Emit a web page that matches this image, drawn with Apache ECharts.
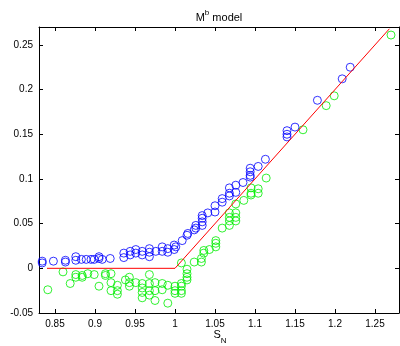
<!DOCTYPE html>
<html><head><meta charset="utf-8">
<script src="https://cdn.jsdelivr.net/npm/echarts@6/dist/echarts.min.js"></script>
<style>html,body{margin:0;padding:0;background:#fff}#c{width:400px;height:346px}</style>
</head><body><div id="c"></div>
<script>
const xTicks=[0.85,0.9,0.95,1,1.05,1.1,1.15,1.2,1.25];
const yTicks=[-0.05,0,0.05,0.1,0.15,0.2,0.25];

const blueX=[0.834,0.834,0.848,0.863,0.863,0.876,0.876,0.883,0.889,0.895,0.899,0.905,0.905,0.909,0.919,
0.936,0.936,0.944,0.944,0.951,0.951,0.959,0.959,0.968,0.968,0.968,0.976,0.984,0.984,0.991,0.991,0.999,0.999,1.001,
1.009,1.015,1.016,1.024,1.026,1.026,1.034,1.034,1.034,1.034,1.041,1.05,1.05,1.059,1.059,1.068,1.068,1.068,
1.076,1.076,1.085,1.094,1.094,1.094,1.094,1.104,1.113,1.14,1.14,1.14,1.15,1.178,1.209,1.219];
const blueY=[0.008,0.006,0.008,0.009,0.007,0.013,0.009,0.010,0.010,0.010,0.010,0.013,0.011,0.010,0.011,
0.017,0.012,0.019,0.015,0.021,0.017,0.019,0.015,0.022,0.018,0.013,0.019,0.024,0.019,0.022,0.018,0.026,0.021,0.024,
0.031,0.037,0.039,0.043,0.048,0.045,0.059,0.056,0.052,0.048,0.062,0.070,0.063,0.078,0.074,0.090,0.084,0.081,
0.093,0.085,0.096,0.112,0.108,0.104,0.102,0.114,0.122,0.154,0.150,0.147,0.158,0.188,0.212,0.225];

const greenX=[0.841,0.86,0.869,0.876,0.876,0.884,0.884,0.891,0.899,0.905,0.913,0.913,0.92,0.92,0.92,
0.928,0.928,0.928,0.938,0.943,0.943,0.943,0.951,0.959,0.959,0.959,0.959,0.968,0.968,0.968,0.968,
0.975,0.975,0.975,0.984,0.984,0.991,0.991,1.0,1.0,1.0,1.008,1.008,1.008,1.008,1.008,
1.015,1.015,1.015,1.015,1.024,1.033,1.033,1.036,1.036,1.043,1.051,1.051,1.051,1.059,
1.068,1.068,1.068,1.068,1.076,1.076,1.076,1.076,1.086,1.095,1.095,1.095,1.104,1.104,1.114,
1.16,1.189,1.199,1.27];
const greenY=[-0.024,-0.004,-0.017,-0.007,-0.010,-0.008,-0.010,-0.006,-0.007,-0.020,-0.006,-0.008,-0.006,-0.016,-0.025,
-0.019,-0.025,-0.029,-0.013,-0.010,-0.016,-0.020,-0.016,-0.017,-0.022,-0.027,-0.033,-0.007,-0.017,-0.025,-0.030,
-0.016,-0.025,-0.036,-0.017,-0.024,-0.019,-0.039,-0.020,-0.025,-0.028,0.006,-0.017,-0.020,-0.025,-0.028,
-0.001,-0.006,-0.010,-0.013,0.007,0.011,0.007,0.020,0.017,0.021,0.031,0.028,0.024,0.045,
0.062,0.057,0.053,0.048,0.062,0.057,0.053,0.072,0.076,0.090,0.084,0.082,0.089,0.084,0.101,
0.155,0.182,0.193,0.261];

const modelX=[0.84,1.0,1.268];
const modelY=[0,0,0.268];

const zip=(a,b)=>a.map((v,i)=>[v,b[i]]);
const FONT='Liberation Sans, Arial, Helvetica, sans-serif';

const chart=echarts.init(document.getElementById('c'),null,{renderer:'canvas'});
const axisCommon={
  type:'value',
  splitLine:{show:false},
  axisLine:{show:true,onZero:false,lineStyle:{color:'#000',width:1}},
};
chart.setOption({
  animation:false,
  backgroundColor:'#fff',
  grid:{left:39,right:1,top:27,bottom:33,containLabel:false},
  xAxis:[
    Object.assign({},axisCommon,{min:0.83,max:1.28,position:'bottom',
      axisTick:{show:true,inside:true,length:4,customValues:xTicks,lineStyle:{color:'#000'}},
      axisLabel:{show:true,customValues:xTicks,fontSize:10,color:'#000',margin:6,fontFamily:FONT}}),
    Object.assign({},axisCommon,{min:0.83,max:1.28,position:'top',
      axisTick:{show:true,inside:true,length:4,customValues:xTicks,lineStyle:{color:'#000'}},
      axisLabel:{show:false}})
  ],
  yAxis:[
    Object.assign({},axisCommon,{min:-0.05,max:0.27,position:'left',
      axisTick:{show:true,inside:true,length:4,customValues:yTicks,lineStyle:{color:'#000'}},
      axisLabel:{show:true,customValues:yTicks,fontSize:10,color:'#000',margin:6,fontFamily:FONT}}),
    Object.assign({},axisCommon,{min:-0.05,max:0.27,position:'right',
      axisTick:{show:true,inside:true,length:4,customValues:yTicks,lineStyle:{color:'#000'}},
      axisLabel:{show:false}})
  ],
  graphic:[
    {type:'text',x:219,y:9,style:{text:'{m|M}{b|b}{t| model}',textAlign:'center',
      rich:{m:{fontSize:11,fontFamily:FONT,fill:'#000',lineHeight:14,verticalAlign:'bottom'},
            b:{fontSize:8,fontFamily:FONT,fill:'#000',lineHeight:8,verticalAlign:'top'},
            t:{fontSize:11,fontFamily:FONT,fill:'#000',lineHeight:14,verticalAlign:'bottom'}}}},
    {type:'text',x:220,y:329,style:{text:'{s|S}{n|N}',textAlign:'center',
      rich:{s:{fontSize:11,fontFamily:FONT,fill:'#000',lineHeight:16,verticalAlign:'top'},
            n:{fontSize:8,fontFamily:FONT,fill:'#000',lineHeight:8,verticalAlign:'bottom'}}}}
  ],
  series:[
    {type:'scatter',name:'blue',xAxisIndex:0,yAxisIndex:0,data:zip(blueX,blueY),symbol:'circle',symbolSize:8,
      itemStyle:{color:'rgba(0,0,0,0)',borderColor:'#0000ff',borderWidth:1},clip:true},
    {type:'scatter',name:'green',xAxisIndex:0,yAxisIndex:0,data:zip(greenX,greenY),symbol:'circle',symbolSize:8,
      itemStyle:{color:'rgba(0,0,0,0)',borderColor:'#00ee00',borderWidth:1},clip:true},
    {type:'line',name:'model',xAxisIndex:0,yAxisIndex:0,data:zip(modelX,modelY),showSymbol:false,symbol:'none',
      lineStyle:{color:'#ff0000',width:1},clip:true}
  ]
});
</script></body></html>
